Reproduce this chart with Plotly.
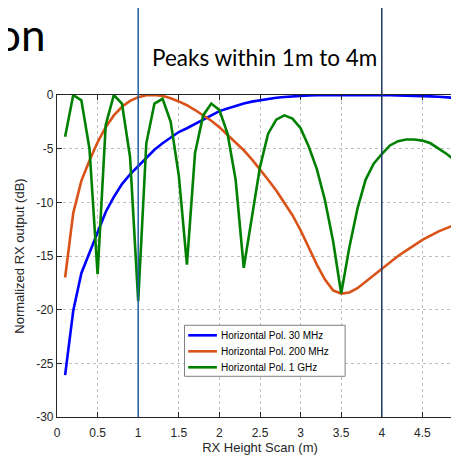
import plotly.graph_objects as go

heights = [0.1, 0.2, 0.3, 0.4, 0.5, 0.6, 0.7, 0.8, 0.9, 1.0,
           1.1, 1.2, 1.3, 1.4, 1.5, 1.6, 1.7, 1.8, 1.9, 2.0,
           2.1, 2.2, 2.3, 2.4, 2.5, 2.6, 2.7, 2.8, 2.9, 3.0,
           3.1, 3.2, 3.3, 3.4, 3.5, 3.6, 3.7, 3.8, 3.9, 4.0,
           4.1, 4.2, 4.3, 4.4, 4.5, 4.6, 4.7, 4.8, 4.9, 5.0]

hpol_30mhz = [-26.1, -20.1, -16.6, -14.7, -12.8, -10.9, -9.5, -8.3, -7.4, -6.6,
              -5.8, -5.1, -4.5, -3.95, -3.45, -3.1, -2.7, -2.25, -1.85, -1.5,
              -1.25, -1.0, -0.8, -0.62, -0.48, -0.36, -0.26, -0.18, -0.12, -0.07,
              -0.04, -0.02, -0.01, 0.0, 0.0, 0.0, 0.0, 0.0, 0.0, -0.01,
              -0.02, -0.03, -0.05, -0.07, -0.1, -0.13, -0.17, -0.21, -0.26, -0.31]

hpol_200mhz = [-17.0, -11.0, -8.0, -6.1, -4.4, -3.0, -1.9, -1.1, -0.55, -0.2,
               -0.03, 0.0, -0.08, -0.3, -0.6, -0.95, -1.4, -1.9, -2.4, -3.0,
               -3.7, -4.4, -5.15, -6.0, -6.9, -7.9, -8.9, -10.0, -11.2, -12.6,
               -14.2, -15.8, -17.2, -18.2, -18.5, -18.4, -18.0, -17.4, -16.8, -16.2,
               -15.6, -15.0, -14.5, -14.0, -13.5, -13.1, -12.7, -12.4, -12.1, -11.8]

hpol_1ghz = [-3.9, 0.0, -0.5, -5.0, -16.7, -2.8, 0.0, -0.8, -5.8, -19.2,
             -4.5, -0.8, -0.35, -2.5, -7.5, -15.8, -5.4, -1.9, -0.8, -1.4,
             -3.6, -7.9, -16.1, -11.5, -6.7, -3.6, -2.3, -1.9, -2.2, -3.1,
             -4.8, -6.9, -9.8, -13.6, -18.5, -14.2, -10.6, -7.9, -6.4, -5.5,
             -4.7, -4.3, -4.15, -4.15, -4.25, -4.5, -5.0, -5.5, -6.1, -6.6]

series_names = ["Horizontal Pol. 30 MHz", "Horizontal Pol. 200 MHz", "Horizontal Pol. 1 GHz"]
series_colors = ["#0000FF", "#D95319", "#008000"]
x_ticks = [0, 0.5, 1, 1.5, 2, 2.5, 3, 3.5, 4, 4.5]
y_ticks = [0, -5, -10, -15, -20, -25, -30]
marker_heights = [1, 4]
marker_colors = ["#1F5FA0", "#1F3864"]

fig = go.Figure()
for name, vals, col in zip(series_names, [hpol_30mhz, hpol_200mhz, hpol_1ghz], series_colors):
    fig.add_trace(go.Scatter(x=heights, y=vals, mode="lines", name=name,
                             line=dict(color=col, width=2.6), showlegend=False))

for h, c in zip(marker_heights, marker_colors):
    fig.add_shape(type="line", xref="x", yref="paper", x0=h, x1=h, y0=0, y1=1.28,
                  line=dict(color=c, width=1.5), layer="above")

# manual legend box (tight rows as in the reference)
leg_x0, leg_x1, leg_y0, leg_y1 = 0.3141, 0.7097, 0.1264, 0.2848
leg_rows = [0.2537, 0.2040, 0.1543]
fig.add_shape(type="rect", xref="paper", yref="paper", x0=leg_x0, x1=leg_x1, y0=leg_y0, y1=leg_y1,
              line=dict(color="#7f7f7f", width=1), fillcolor="white", layer="above")
annotations = []
for name, col, ry in zip(series_names, series_colors, leg_rows):
    fig.add_shape(type="line", xref="paper", yref="paper", x0=0.3232, x1=0.3938, y0=ry, y1=ry,
                  line=dict(color=col, width=2.6), layer="above")
    annotations.append(dict(text=name, xref="paper", yref="paper", x=0.4002, y=ry,
                            xanchor="left", yanchor="middle", showarrow=False,
                            font=dict(family="Liberation Sans, Arial, sans-serif", size=10, color="#000000")))

annotations += [
    dict(text="Peaks within 1m to 4m", xref="paper", yref="paper",
         x=0.2296, y=1.117, xanchor="left", yanchor="middle", showarrow=False,
         font=dict(family="Lato, Carlito, sans-serif", size=22.5, color="#000000")),
    dict(text="tion", xref="paper", yref="paper",
         x=-0.022, y=1.19, xanchor="right", yanchor="middle", showarrow=False,
         font=dict(family="Lato, Carlito, sans-serif", size=44, color="#000000")),
]

axis_font = dict(family="Liberation Sans, Arial, sans-serif", size=12, color="#262626")

fig.update_layout(
    width=459, height=457,
    margin=dict(l=48.7, r=4.05, t=86.7, b=48.3),
    paper_bgcolor="white", plot_bgcolor="white",
    showlegend=False,
    annotations=annotations,
)

fig.update_xaxes(range=[0, 5], tickvals=x_ticks, ticktext=[f"{t:g}" for t in x_ticks],
                 showline=True, linecolor="#262626", linewidth=1.2, mirror="ticks",
                 ticks="inside", ticklen=5, tickcolor="#262626",
                 showgrid=True, gridcolor="#c0c0c0", griddash="dot", gridwidth=1,
                 zeroline=False, tickfont=axis_font, ticklabelstandoff=4,
                 title=dict(text="RX Height Scan (m)", font=dict(family="Liberation Sans, Arial, sans-serif", size=13, color="#262626"), standoff=4))
fig.update_yaxes(range=[-30, 0], tickvals=y_ticks, ticktext=[f"{t:g}" for t in y_ticks],
                 showline=True, linecolor="#262626", linewidth=1.2, mirror=False,
                 ticks="inside", ticklen=5, tickcolor="#262626",
                 showgrid=True, gridcolor="#c0c0c0", griddash="dot", gridwidth=1,
                 zeroline=False, tickfont=axis_font,
                 title=dict(text="Normalized RX output (dB)", font=dict(family="Liberation Sans, Arial, sans-serif", size=13, color="#262626"), standoff=8))

fig.write_html("out.html")
